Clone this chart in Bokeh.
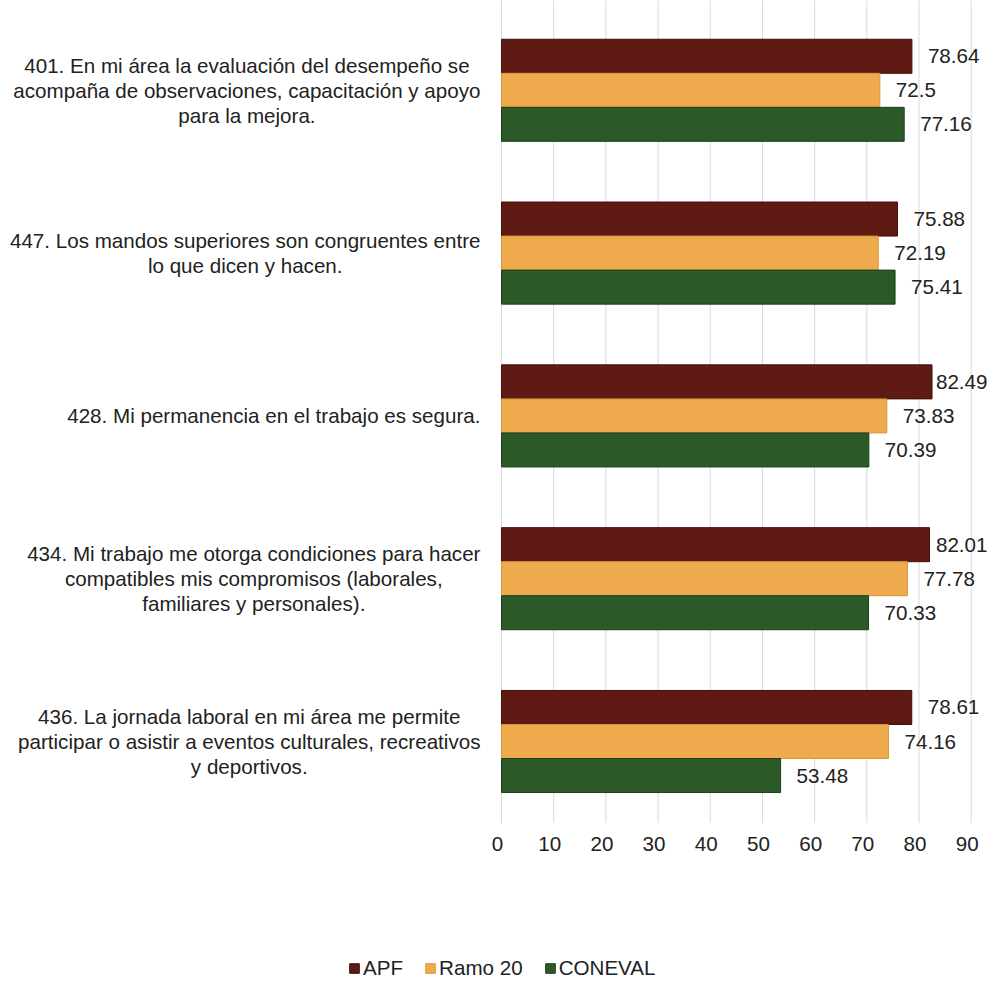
from bokeh.plotting import figure
from bokeh.models import ColumnDataSource, Range1d, Legend, LegendItem
from bokeh.transform import dodge
from bokeh.core.properties import value
from bokeh.embed import file_html
from bokeh.resources import INLINE

# ---- data ----
categories = [
    "401. En mi área la evaluación del desempeño se\nacompaña de observaciones, capacitación y apoyo\npara la mejora.",
    "447. Los mandos superiores son congruentes entre\nlo que dicen y hacen.",
    "428. Mi permanencia en el trabajo es segura.",
    "434. Mi trabajo me otorga condiciones para hacer\ncompatibles mis compromisos (laborales,\nfamiliares y personales).",
    "436. La jornada laboral en mi área me permite\nparticipar o asistir a eventos culturales, recreativos\ny deportivos.",
]
apf = [78.64, 75.88, 82.49, 82.01, 78.61]
ramo20 = [72.5, 72.19, 73.83, 77.78, 74.16]
coneval = [77.16, 75.41, 70.39, 70.33, 53.48]
series_names = ["APF", "Ramo 20", "CONEVAL"]
x_ticks = [0, 10, 20, 30, 40, 50, 60, 70, 80, 90]
x_tick_labels = ["0", "10", "20", "30", "40", "50", "60", "70", "80", "90"]

# ---- style / layout constants (pixels) ----
FONT = "Liberation Sans"
FSZ = 20.6
FS = f"{FSZ}px"
TXT = "#222222"
colors = ["#5e1a13", "#efaa4e", "#2b5a28"]
edges = ["#3e0f0a", "#d9963e", "#1c3f1a"]

W, H = 991, 984
X0_PX = 501.0          # x = 0 position
PPX = 469.7 / 90.0     # px per x unit
TOP_PX = 8.4           # top of category band
PPY = 162.8            # px per category
GRID_TOP = -TOP_PX / PPY
GRID_BOTTOM = 5.0      # gridlines end below last category
TICK_Y_PX = 843.0
LABEL_RIGHT_PX = 480.0
LINE_GAP = 25.0
VAL_OFF = 16.0
VAL_LIMIT_PX = 987.0

p = figure(width=W, height=H, output_backend="svg", toolbar_location=None,
           x_range=Range1d(-X0_PX / PPX, (W - X0_PX) / PPX),
           y_range=Range1d((H - TOP_PX) / PPY, -TOP_PX / PPY),
           min_border=0, min_border_left=0, min_border_right=0,
           min_border_top=0, min_border_bottom=0)
p.outline_line_color = None
p.xaxis.visible = False
p.yaxis.visible = False
p.xgrid.visible = False
p.ygrid.visible = False

# Arial (Liberation Sans) advance widths (per 1000 em)
AW = {" ": 278, ".": 278, ",": 278, "(": 333, ")": 333,
      "a": 556, "b": 556, "c": 500, "d": 556, "e": 556, "f": 278, "g": 556, "h": 556,
      "i": 222, "j": 222, "k": 500, "l": 222, "m": 833, "n": 556, "o": 556, "p": 556,
      "q": 556, "r": 333, "s": 500, "t": 278, "u": 556, "v": 500, "w": 722, "x": 500,
      "y": 500, "z": 500, "á": 556, "é": 556, "í": 222, "ó": 556, "ñ": 556,
      "E": 667, "L": 556, "M": 833}
def text_w(s, size=FSZ):
    return sum(AW.get(ch, 556) for ch in s) * size / 1000.0

# vertical gridlines
p.segment(x0=x_ticks, x1=x_ticks, y0=[GRID_TOP] * len(x_ticks),
          y1=[GRID_BOTTOM] * len(x_ticks), line_color="#d9d9d9", line_width=1)

# tick labels
p.text(x=x_ticks, y=[(TICK_Y_PX - TOP_PX) / PPY] * len(x_ticks), text=x_tick_labels,
       x_offset=-4, text_align="center", text_baseline="middle",
       text_font=value(FONT), text_font_size=value(FS), text_color=TXT)

pos = [i + 0.5 for i in range(len(categories))]
src = ColumnDataSource(dict(pos=pos, apf=apf, ramo=ramo20, con=coneval))

bh = 0.209
renderers = []
for key, vals, off, c, e in [("apf", apf, -bh, colors[0], edges[0]),
                             ("ramo", ramo20, 0.0, colors[1], edges[1]),
                             ("con", coneval, bh, colors[2], edges[2])]:
    r = p.hbar(y=dodge("pos", off), right=key, left=0, height=bh, source=src,
               fill_color=c, line_color=e, line_width=1)
    renderers.append(r)
    labels = [f"{v:g}" for v in vals]
    xs = []
    for v, t in zip(vals, labels):
        end_px = X0_PX + v * PPX
        off_px = min(VAL_OFF, VAL_LIMIT_PX - end_px - text_w(t))
        xs.append(v + off_px / PPX)
    p.text(x=xs, y=[y + off for y in pos], text=labels,
           text_align="left", text_baseline="middle",
           text_font=value(FONT), text_font_size=value(FS), text_color=TXT)

# category labels (wrapped, centred lines, block right-aligned to the axis)
cx, cy, ct = [], [], []
for i, cat in enumerate(categories):
    lines = cat.split("\n")
    maxw = max(text_w(l) for l in lines)
    center_px = LABEL_RIGHT_PX - maxw / 2.0
    n = len(lines)
    for k, line in enumerate(lines):
        cx.append((center_px - X0_PX) / PPX)
        cy.append(pos[i] + (k - (n - 1) / 2.0) * LINE_GAP / PPY)
        ct.append(line)
p.text(x=cx, y=cy, text=ct, text_align="center", text_baseline="middle",
       text_font=value(FONT), text_font_size=value(FS), text_color=TXT)

legend = Legend(items=[LegendItem(label=n, renderers=[r])
                       for n, r in zip(series_names, renderers)],
                orientation="horizontal", location=(348, 4),
                glyph_width=12, glyph_height=12, label_standoff=3, spacing=21,
                padding=0, margin=0, border_line_color=None,
                background_fill_alpha=0, label_height=20,
                label_text_font=FONT, label_text_font_size=FS,
                label_text_color=TXT)
p.add_layout(legend)

open("out.html", "w").write(file_html(p, INLINE))
